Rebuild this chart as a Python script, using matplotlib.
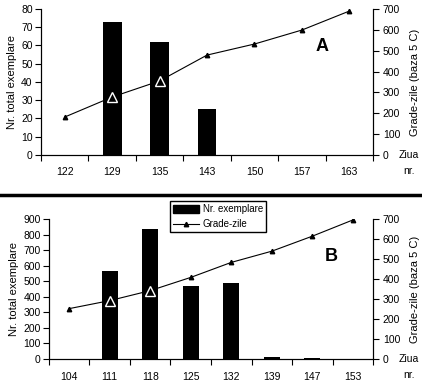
import numpy as np
import matplotlib
matplotlib.use("Agg")
import matplotlib.pyplot as plt
from matplotlib.lines import Line2D
from matplotlib.patches import Patch
from matplotlib.transforms import offset_copy

plt.rcParams["font.family"] = ["Liberation Sans", "DejaVu Sans"]
plt.rcParams["font.size"] = 7.5

# panel A
days_a = ["122", "129", "135", "143", "150", "157", "163"]
count_a = [0, 73, 62, 25, 0, 0, 0]
gdd_a = [182, 278, 355, 479, 532, 599, 690]

# panel B
days_b = ["104", "111", "118", "125", "132", "139", "147", "153"]
count_b = [0, 566, 836, 469, 489, 12, 5, 0]
gdd_b = [252, 292, 342, 408, 483, 539, 614, 695]


def draw_panel(rect, days, counts, gdd, ymax, ystep, letter, letter_xy, legend=False):
    fig = plt.gcf()
    ax = fig.add_axes(rect)
    x = np.arange(len(days))
    ax.bar(x, counts, width=0.4, color="black", zorder=2)
    ax.set_xlim(-0.5, len(days) - 0.5)
    ax.set_ylim(0, ymax)
    ax.set_yticks(np.arange(0, ymax + 1, ystep))
    ax.set_xticks(x)
    ax.set_xticklabels(days)
    ax.set_xticks(np.arange(-0.5, len(days) - 0.4, 1), minor=True)
    ax.tick_params(axis="x", which="major", length=0, pad=9)
    ax.tick_params(axis="x", which="minor", length=4, direction="out", width=0.8)
    ax.tick_params(axis="y", length=4, width=0.8, pad=2)
    ax.spines["top"].set_visible(False)
    ax.set_ylabel("Nr. total exemplare", fontsize=8, labelpad=3)

    ax2 = ax.twinx()
    ax2.set_ylim(0, 700)
    ax2.set_yticks(np.arange(0, 701, 100))
    ax2.tick_params(axis="y", length=4, width=0.8, pad=3)
    ax2.spines["top"].set_visible(False)
    ax2.set_ylabel("Grade-zile (baza 5 C)", fontsize=8, labelpad=7)
    ax2.plot(x, gdd, color="black", lw=0.8, marker="^", ms=3.2, zorder=3)
    # points hidden by bars show as white open triangles
    gdd_arr = np.array(gdd)
    inside = gdd_arr / 700 * ymax < np.array(counts)
    ax2.plot(x[inside], gdd_arr[inside], ls="none", marker="^", ms=7,
             mfc="none", mec="white", mew=1.0, zorder=4)

    ax2.text(letter_xy[0], letter_xy[1], letter, transform=ax.transAxes,
             fontsize=13, fontweight="bold", ha="center", va="center")
    t1 = offset_copy(ax.transAxes, fig=fig, x=36, y=0, units="dots")
    t2 = offset_copy(ax.transAxes, fig=fig, x=36, y=-16, units="dots")
    ax2.text(1.0, 0.0, "Ziua", transform=t1, ha="center", va="center")
    ax2.text(1.0, 0.0, "nr.", transform=t2, ha="center", va="center")

    if legend:
        handles = [Patch(facecolor="black", edgecolor="black"),
                   Line2D([0], [0], color="black", lw=0.8, marker="^", ms=3.2)]
        ax2.legend(handles, ["Nr. exemplare", "Grade-zile"], loc="upper left",
                   bbox_to_anchor=(0.375, 1.125), frameon=True, fancybox=False,
                   edgecolor="black", framealpha=1, fontsize=7,
                   handlelength=2.6, handleheight=0.8, borderpad=0.3,
                   labelspacing=0.5, borderaxespad=0, handletextpad=0.4)
    return ax


fig = plt.figure(figsize=(4.22, 3.81), dpi=100)
draw_panel([0.0972, 0.5932, 0.7867, 0.3832], days_a, count_a, gdd_a, 80, 10,
           "A", (0.845, 0.74))
draw_panel([0.1161, 0.0577, 0.7678, 0.3675], days_b, count_b, gdd_b, 900, 100,
           "B", (0.87, 0.73), legend=True)

# separator line between panels
fig.add_artist(Line2D([0, 1], [1 - 195 / 381, 1 - 195 / 381], color="black",
                      lw=2.5, transform=fig.transFigure))

fig.savefig("out.png", dpi=100)
